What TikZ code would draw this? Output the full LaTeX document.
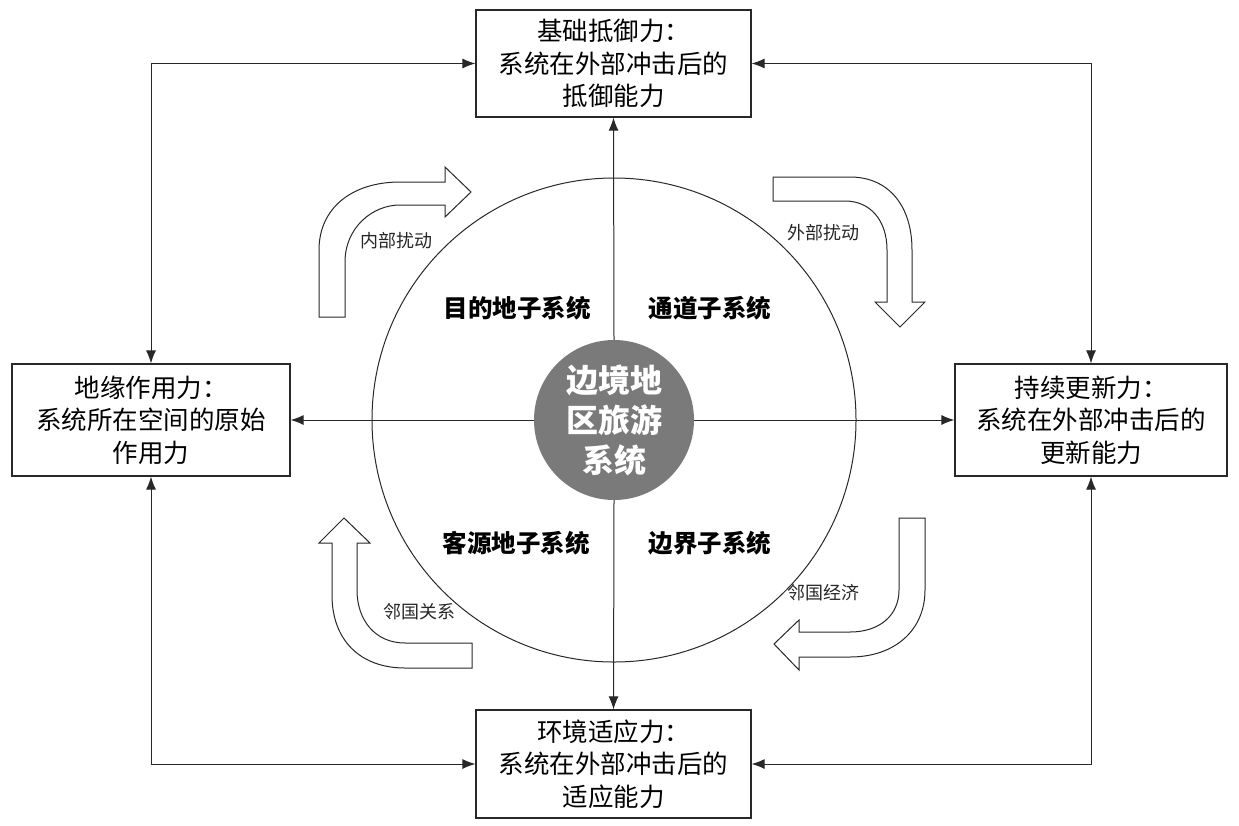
\documentclass[tikz,border=0pt]{standalone}
\usepackage{fontspec}
\newfontfamily\cjk{Noto Sans CJK SC}
\usetikzlibrary{arrows.meta}
\definecolor{coregray}{RGB}{122,122,122}
\definecolor{linec}{RGB}{40,40,40}
\begin{document}
\begin{tikzpicture}[x=1pt,y=-1pt,
  box/.style={draw=linec, line width=1.2pt, rectangle, minimum width=275pt, minimum height=107pt, inner sep=0pt, align=center, font=\cjk\fontsize{25.5}{32.5}\selectfont},
  conn/.style={line width=1pt, draw=linec, {Latex[length=13pt,width=10pt]}-{Latex[length=13pt,width=10pt]}},
  ray/.style={line width=1pt, draw=linec, -{Latex[length=13pt,width=10pt]}},
  blockarrow/.style={draw=linec, line width=1pt, fill=white},
  sub/.style={font=\cjk\bfseries\fontsize{24.5}{28}\selectfont},
  small/.style={font=\cjk\fontsize{18}{22}\selectfont, text=black!85}
]
\useasboundingbox (0,0) rectangle (1239,825);

% boxes
\node[box] (top) at (613.5,63.5) {基础抵御力：\\系统在外部冲击后的\\抵御能力};
\node[box, minimum width=278pt, minimum height=112pt] (left) at (151,420) {地缘作用力：\\系统所在空间的原始\\作用力};
\node[box, minimum width=272pt, minimum height=112pt] (right) at (1091,420) {持续更新力：\\系统在外部冲击后的\\更新能力};
\node[box, minimum height=108pt] (bottom) at (613.5,764) {环境适应力：\\系统在外部冲击后的\\适应能力};

% outer connectors
\draw[conn] (top.west) -| (left.north);
\draw[conn] (top.east) -| (right.north);
\draw[conn] (left.south) |- (bottom.west);
\draw[conn] (right.south) |- (bottom.east);

% ring
\node[circle, draw=linec, line width=1pt, minimum size=484pt, inner sep=0pt] (ring) at (614,420) {};
\node[circle, fill=coregray, minimum size=160pt, inner sep=0pt, text=white, align=center,
      font=\cjk\bfseries\fontsize{32}{40}\selectfont] (core) at (614,420) {边境地\\区旅游\\系统};

% rays
\draw[ray] (core.north) -- (top.south);
\draw[ray] (core.south) -- (bottom.north);
\draw[ray] (core.west) -- (left.east);
\draw[ray] (core.east) -- (right.west);

% subsystem labels
\node[sub] (s1) at (517,308) {目的地子系统};
\node[sub] (s2) at (710,308) {通道子系统};
\node[sub] (s3) at (516,543) {客源地子系统};
\node[sub] (s4) at (710,543) {边界子系统};

% block arrows
\draw[blockarrow] (319,317) -- (319,250) .. controls (319,208) and (352,182) .. (400,182) -- (445,182) -- (445,167) -- (471,192) -- (445,217) -- (445,205) -- (400,205) .. controls (372,205) and (345,228) .. (345,262) -- (345,317) -- cycle;
\draw[blockarrow] (773,177) -- (850,177) .. controls (888,177) and (912,205) .. (912,250) -- (912,302) -- (925,302) -- (900,327) -- (875,302) -- (887,302) -- (887,250) .. controls (887,220) and (870,201) .. (845,201) -- (773,201) -- cycle;
\draw[blockarrow] (899,518) -- (925,518) -- (925,590) .. controls (925,630) and (895,657) .. (850,657) -- (799,657) -- (799,670) -- (774,644) -- (799,620) -- (799,632) -- (850,632) .. controls (880,632) and (899,615) .. (899,590) -- cycle;
\draw[blockarrow] (472,643) -- (405,643) .. controls (375,643) and (357,620) .. (357,590) -- (357,543) -- (370,543) -- (344,518) -- (319,543) -- (332,543) -- (332,595) .. controls (332,640) and (360,668) .. (405,668) -- (472,668) -- cycle;

% small labels
\node[small] (l1) at (396,241) {内部扰动};
\node[small] (l2) at (823,233) {外部扰动};
\node[small] (l3) at (419,612) {邻国关系};
\node[small] (l4) at (823,593) {邻国经济};
\end{tikzpicture}
\end{document}
